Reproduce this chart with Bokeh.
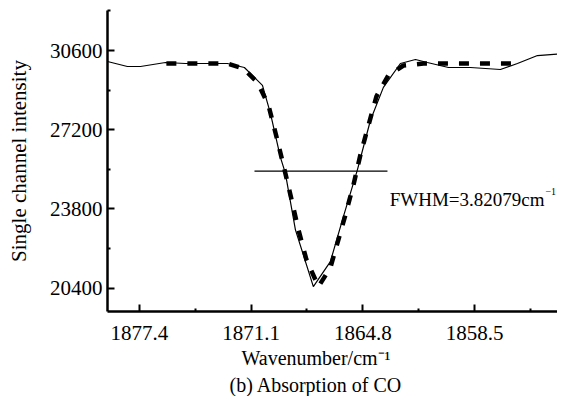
from bokeh.plotting import figure
from bokeh.models import Range1d, FixedTicker, Label, Title
from bokeh.embed import file_html
from bokeh.resources import INLINE

# Measured spectrum (solid)
meas_wn = [1879.20, 1878.08, 1877.34, 1875.93, 1874.81, 1872.44, 1871.48, 1870.46,
           1870.01, 1869.45, 1869.17, 1868.60, 1867.59, 1866.63, 1865.90, 1865.11,
           1864.37, 1863.64, 1862.68, 1861.83, 1861.16, 1859.97, 1858.73, 1857.04,
           1856.08, 1854.95, 1853.49]
meas_int = [30130, 29916, 29916, 30087, 30044, 30044, 29873, 29103,
            27905, 26024, 25339, 22901, 20464, 21533, 23458, 25468,
            27606, 29018, 30044, 30215, 30087, 29873, 29873, 29787,
            30044, 30386, 30472]

# Fitted profile (dashed)
fit_wn = [1875.88, 1872.44, 1871.53, 1870.74, 1870.12, 1869.62, 1869.28, 1868.88,
          1868.43, 1867.98, 1867.30, 1866.63, 1866.18, 1865.78, 1865.33, 1864.94,
          1864.48, 1864.03, 1863.36, 1862.51, 1861.38, 1856.31]
fit_int = [30044, 30044, 29830, 29231, 28248, 26751, 25681, 24398,
           22901, 21618, 20464, 21276, 22474, 23543, 24826, 26109,
           27392, 28633, 29531, 29958, 30044, 30044]

# FWHM marker
fwhm_wn = [1870.91, 1863.41]
fwhm_int = [25425, 25425]
fwhm_text = "FWHM=3.82079cm"
fwhm_sup = "\u22121"

x_ticks = [1877.4, 1871.1, 1864.8, 1858.5]
x_tick_labels = ["1877.4", "1871.1", "1864.8", "1858.5"]
x_minor = [1874.25, 1867.95, 1861.65, 1855.35]
y_ticks = [20400, 23800, 27200, 30600]
y_tick_labels = ["20400", "23800", "27200", "30600"]
y_minor = [22100, 25500, 28900, 32300]

x_title = "Wavenumber/cm\u207b\u00b9"
y_title = "Single channel intensity"
caption = "(b) Absorption of CO"

FONT = "Liberation Serif"

p = figure(width=557, height=396, output_backend="svg", toolbar_location=None,
           x_range=Range1d(1879.2, 1853.82), y_range=Range1d(19394, 32320),
           min_border_left=107, min_border_right=0, min_border_top=10, min_border_bottom=84)
p.outline_line_color = None
p.xgrid.visible = False
p.ygrid.visible = False
p.background_fill_color = "white"
p.border_fill_color = "white"

p.line(meas_wn, meas_int, line_color="black", line_width=1.2)
p.line(fit_wn, fit_int, line_color="black", line_width=4.5, line_dash="10 11")
p.line(fwhm_wn, fwhm_int, line_color="black", line_width=1.2)

p.add_layout(Label(x=fwhm_wn[1], y=24184, x_offset=157, text=fwhm_text, text_font=FONT,
                   text_font_size="19px", text_color="black", text_align="right",
                   text_baseline="alphabetic"))
p.add_layout(Label(x=fwhm_wn[1], y=24184, x_offset=158, y_offset=8, text=fwhm_sup,
                   text_font=FONT, text_font_size="10px", text_color="black",
                   text_align="left", text_baseline="alphabetic"))

for ax, ticks, labels, minor in ((p.xaxis[0], x_ticks, x_tick_labels, x_minor),
                                 (p.yaxis[0], y_ticks, y_tick_labels, y_minor)):
    ax.ticker = FixedTicker(ticks=ticks, minor_ticks=minor)
    ax.major_label_overrides = dict(zip(ticks, labels))
    ax.axis_line_width = 2.5
    ax.axis_line_color = "black"
    ax.major_tick_in = 7
    ax.major_tick_out = 0
    ax.minor_tick_in = 3
    ax.minor_tick_out = 0
    ax.major_tick_line_width = 2
    ax.minor_tick_line_width = 2
    ax.major_label_text_font = FONT
    ax.major_label_text_font_size = "21px"
    ax.major_label_text_color = "black"
    ax.axis_label_text_font = FONT
    ax.axis_label_text_font_size = "21px"
    ax.axis_label_text_font_style = "normal"
    ax.axis_label_text_color = "black"

p.yaxis.axis_label = y_title
p.xaxis.major_label_standoff = 14
p.yaxis.major_label_standoff = 5
p.yaxis.axis_label_standoff = 16

p.add_layout(Title(text=x_title, align="left", offset=134, text_font=FONT,
                   text_font_size="20px", text_font_style="normal", text_color="black",
                   standoff=5), "below")
p.add_layout(Title(text=caption, align="left", offset=122, text_font=FONT,
                   text_font_size="20px", text_font_style="normal", text_color="black",
                   standoff=1), "below")

open("out.html", "w").write(file_html(p, INLINE))
